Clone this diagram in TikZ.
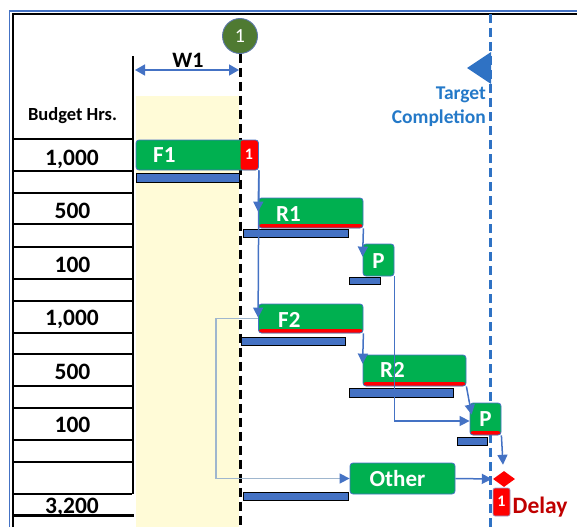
\documentclass[tikz,border=0pt]{standalone}
\usepackage{fontspec}
\setmainfont{Carlito}
\usetikzlibrary{arrows.meta,calc,shapes.geometric}

\definecolor{taskgreen}{HTML}{00B050}
\definecolor{barblue}{HTML}{4472C4}
\definecolor{connblue}{HTML}{4472C4}
\definecolor{targetblue}{HTML}{2F72C4}
\definecolor{targettext}{HTML}{2479C8}
\definecolor{paleline}{HTML}{9FB6CE}
\definecolor{weekgreen}{HTML}{4F7A32}
\definecolor{weekshade}{HTML}{FFFBD7}
\definecolor{delayred}{HTML}{C00000}

\begin{document}
\begin{tikzpicture}[x=1pt,y=-1pt,
  gbox/.style={rectangle, rounded corners=3pt, fill=taskgreen, draw=connblue,
    line width=0.8pt, inner sep=0pt},
  stripbox/.style={gbox, path picture={\fill[red]
    (path picture bounding box.south west) rectangle
    ([yshift=4pt]path picture bounding box.south east);}},
  bar/.style={rectangle, fill=barblue, draw=black, line width=1pt, inner sep=0pt},
  tasklbl/.style={text=white, inner sep=0pt, font=\fontsize{23}{24}\selectfont\bfseries},
  hrs/.style={inner sep=0pt, font=\fontsize{23.5}{24}\selectfont\bfseries},
  conn/.style={draw=connblue, line width=1.5pt, -{Triangle[length=10pt,width=10pt]}},
  paleconn/.style={draw=paleline, line width=1.5pt,
    -{Triangle[length=10pt,width=10pt,color=connblue]}},
  rowline/.style={draw=black, line width=1.3pt}
]
\useasboundingbox (0,0) rectangle (577,527);

% shaded first week
\fill[weekshade] (136,96) rectangle (239,527);

% frame
\draw[barblue, line width=1.6pt] (9.5,527) -- (9.5,11) -- (577,11);
\draw[black, line width=2.2pt] (13,527) -- (13,14) -- (577,14);

% budget column
\foreach \yy in {139,171,193,224,247,279,301,333,354,386,408,440,462,494}
  \draw[rowline] (13,\yy) -- (132,\yy);
\draw[black, line width=2.6pt] (133,56) -- (133,494);
\draw[black, line width=3pt] (13,515) -- (134,515);

\node[inner sep=0pt, font=\fontsize{18.5}{20}\selectfont\bfseries, anchor=base]
  (hdr) at (72.5,120) {Budget Hrs.};
\node[hrs, anchor=base] (h1) at (72,165) {1,000};
\node[hrs, anchor=base] (h2) at (72.5,218) {500};
\node[hrs, anchor=base] (h3) at (72.5,272) {100};
\node[hrs, anchor=base] (h4) at (72,325) {1,000};
\node[hrs, anchor=base] (h5) at (72.5,379) {500};
\node[hrs, anchor=base] (h6) at (72.5,432) {100};
\node[hrs, anchor=base] (tot) at (72,513) {3,200};

% week marker
\node[circle, fill=weekgreen, draw=connblue!60!gray, line width=0.9pt,
  minimum size=35pt, inner sep=0pt, text=white,
  font=\fontsize{20}{20}\selectfont] (wk) at (240,36) {1};
\coordinate (wkend) at (240,527);
\draw[black, line width=3pt, dash pattern=on 9pt off 5pt] (wk.south) -- (wkend);

% week width
\coordinate (w1a) at (135,70);
\coordinate (w1b) at (239,70);
\draw[connblue, line width=1.5pt,
  {Triangle[length=10pt,width=11pt]}-{Triangle[length=10pt,width=11pt]}] (w1a) -- (w1b);
\node[inner sep=0pt, font=\fontsize{22}{22}\selectfont\bfseries, anchor=base]
  (w1) at (188,67) {W1};

% target completion
\coordinate (tgtop) at (490,14);
\coordinate (tgbot) at (490,527);
\draw[targetblue, line width=3pt, dash pattern=on 9pt off 5pt] (tgtop) -- (tgbot);
\fill[targetblue] (491,52) -- (467,68) -- (491,84) -- cycle;
\node[inner sep=0pt, text=targettext, font=\fontsize{19.5}{20}\selectfont\bfseries,
  anchor=base east] (tg1) at (486,99) {Target};
\node[inner sep=0pt, text=targettext, font=\fontsize{19.5}{20}\selectfont\bfseries,
  anchor=base east] (tg2) at (486,123) {Completion};

% baseline bars
\node[bar, minimum width=103pt, minimum height=9pt] (b1) at (187.5,177.5) {};
\node[bar, minimum width=105pt, minimum height=8pt] (br1) at (295.5,233) {};
\node[bar, minimum width=31pt, minimum height=7pt] (bp1) at (364.5,280.5) {};
\node[bar, minimum width=104pt, minimum height=8pt] (bf2) at (293,341) {};
\node[bar, minimum width=104pt, minimum height=9pt] (br2) at (401,392.5) {};
\node[bar, minimum width=30pt, minimum height=8pt] (bp2) at (472,441) {};
\node[bar, minimum width=105pt, minimum height=8pt] (bo) at (295.5,496) {};

% tasks
\node[gbox, minimum width=122.5pt, minimum height=30pt,
  path picture={\fill[red] ([xshift=-18pt]path picture bounding box.north east)
    rectangle (path picture bounding box.south east);}] (f1) at (197.25,155) {};
\node[inner sep=0pt, text=white, font=\fontsize{16}{17}\selectfont\bfseries, anchor=base]
  (f1n) at (249,159) {1};
\node[tasklbl, anchor=base west] (f1t) at (153,162) {F1};

\node[stripbox, minimum width=104.5pt, minimum height=30pt] (r1) at (310.75,213) {};
\node[tasklbl, anchor=base west] (r1t) at (276,221) {R1};

\node[gbox, minimum width=31pt, minimum height=32pt] (p1) at (378.5,260) {};
\node[tasklbl, anchor=base] (p1t) at (378.5,268) {P};

\node[stripbox, minimum width=104.5pt, minimum height=29pt] (f2) at (310.75,318.5) {};
\node[tasklbl, anchor=base west] (f2t) at (278,327) {F2};

\node[stripbox, minimum width=103pt, minimum height=31pt] (r2) at (414.5,370.5) {};
\node[tasklbl, anchor=base west] (r2t) at (380,377) {R2};

\node[stripbox, minimum width=31pt, minimum height=32pt] (p2) at (485.5,419) {};
\node[tasklbl, anchor=base] (p2t) at (485.5,426) {P};

\node[gbox, minimum width=105pt, minimum height=31pt] (other) at (402.5,478.5) {};
\node[tasklbl, anchor=base] (othert) at (397.5,486) {Other};

% delay milestone
\node[diamond, fill=red, inner sep=0pt, minimum width=22pt, minimum height=16pt,
  aspect=1.375] (dia) at (504,479) {};
\node[rectangle, rounded corners=2pt, fill=red, draw=connblue!60, line width=0.6pt,
  minimum width=17pt, minimum height=28pt, inner sep=0pt] (dl) at (501.5,502) {};
\node[inner sep=0pt, text=white, font=\fontsize{16}{17}\selectfont\bfseries, anchor=base]
  (dln) at (501.5,506) {1};
\node[inner sep=0pt, text=delayred, font=\fontsize{23.5}{24}\selectfont\bfseries,
  anchor=base west] (dlt) at (512.5,513) {Delay};

% dependencies
\draw[conn] (f1.south east) -- ($(r1.north west)+(0,14)$);
\draw[conn] (f1.south east) -- ($(f2.north west)+(0,14)$);
\draw[conn] (r1.south east) -- ($(p1.north west)+(0,13)$);
\draw[conn] (p1.south east) |- ($(p2.west)+(0,2)$);
\draw[conn] (f2.south east) -- ($(r2.north west)+(0,9)$);
\draw[conn] (r2.south east) -- ($(p2.north west)+(2,12)$);
\draw[conn] (p2.south east) -- ($(dia.north)+(-1,-6)$);
\draw[conn, shorten >=1pt] (other.east) -- (dia.west);
\draw[paleconn] (f2.west) -- ++(-42,0) |- (other.west);
\end{tikzpicture}
\end{document}
